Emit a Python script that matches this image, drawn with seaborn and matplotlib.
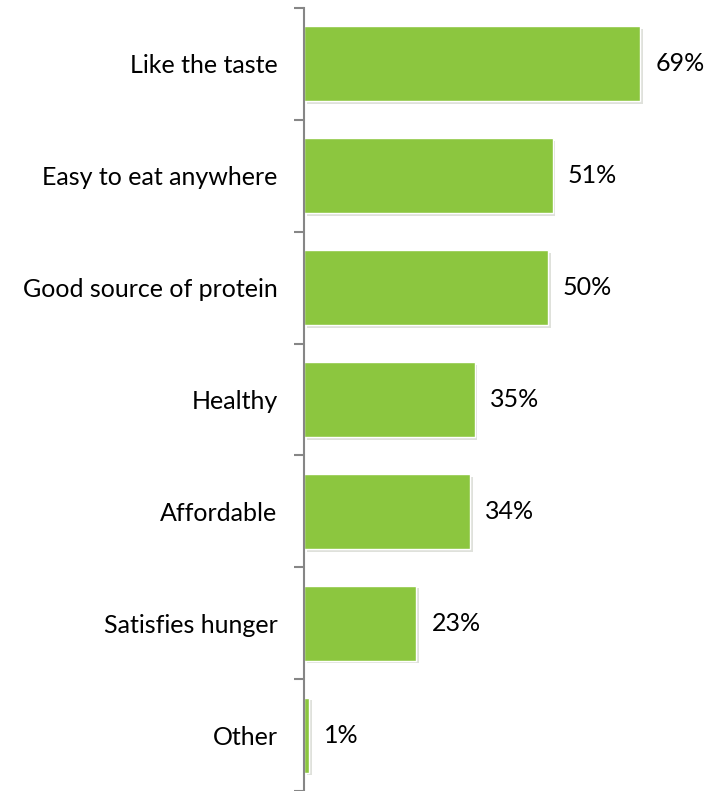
import pandas as pd
import numpy as np
import matplotlib
matplotlib.use("Agg")
import matplotlib.pyplot as plt
import matplotlib.patheffects as pe
import seaborn as sns

# Reasons for eating the snack (share of respondents)
reasons = ["Like the taste", "Easy to eat anywhere", "Good source of protein",
           "Healthy", "Affordable", "Satisfies hunger", "Other"]
shares = [69, 51, 50, 35, 34, 23, 1]

df = pd.DataFrame({"reason": reasons, "share": shares})

sns.set_style("white")
plt.rcParams["font.family"] = ["Lato", "DejaVu Sans"]

fig = plt.figure(figsize=(7.13, 7.91), dpi=100)
ax = fig.add_axes([0.4264, 0.0, 0.547, 0.99])

sns.barplot(data=df, x="share", y="reason", orient="h", color="#8CC63F",
            saturation=1, width=0.67, ax=ax)

for bar in ax.patches:
    bar.set_path_effects([pe.SimplePatchShadow(offset=(2, -2), alpha=0.15),
                          pe.Normal()])

ax.bar_label(ax.containers[0], labels=[f"{v}%" for v in shares],
             padding=11, fontsize=18, color="black")

ax.set_xlim(0, 80)
ax.set_ylim(len(reasons) - 0.5, -0.5)
ax.set_xlabel("")
ax.set_ylabel("")
ax.set_xticks([])

# separators between categories
ax.set_yticks(np.arange(-0.5, len(reasons), 1), minor=True)
ax.tick_params(axis="y", which="major", length=0, pad=19, labelsize=18,
               labelcolor="black")
ax.tick_params(axis="y", which="minor", length=7, width=1.5, color="#868686",
               direction="out", left=True)

for side in ["top", "right", "bottom"]:
    ax.spines[side].set_visible(False)
ax.spines["left"].set_color("#868686")
ax.spines["left"].set_linewidth(1.5)

fig.savefig("out.png", dpi=100)
